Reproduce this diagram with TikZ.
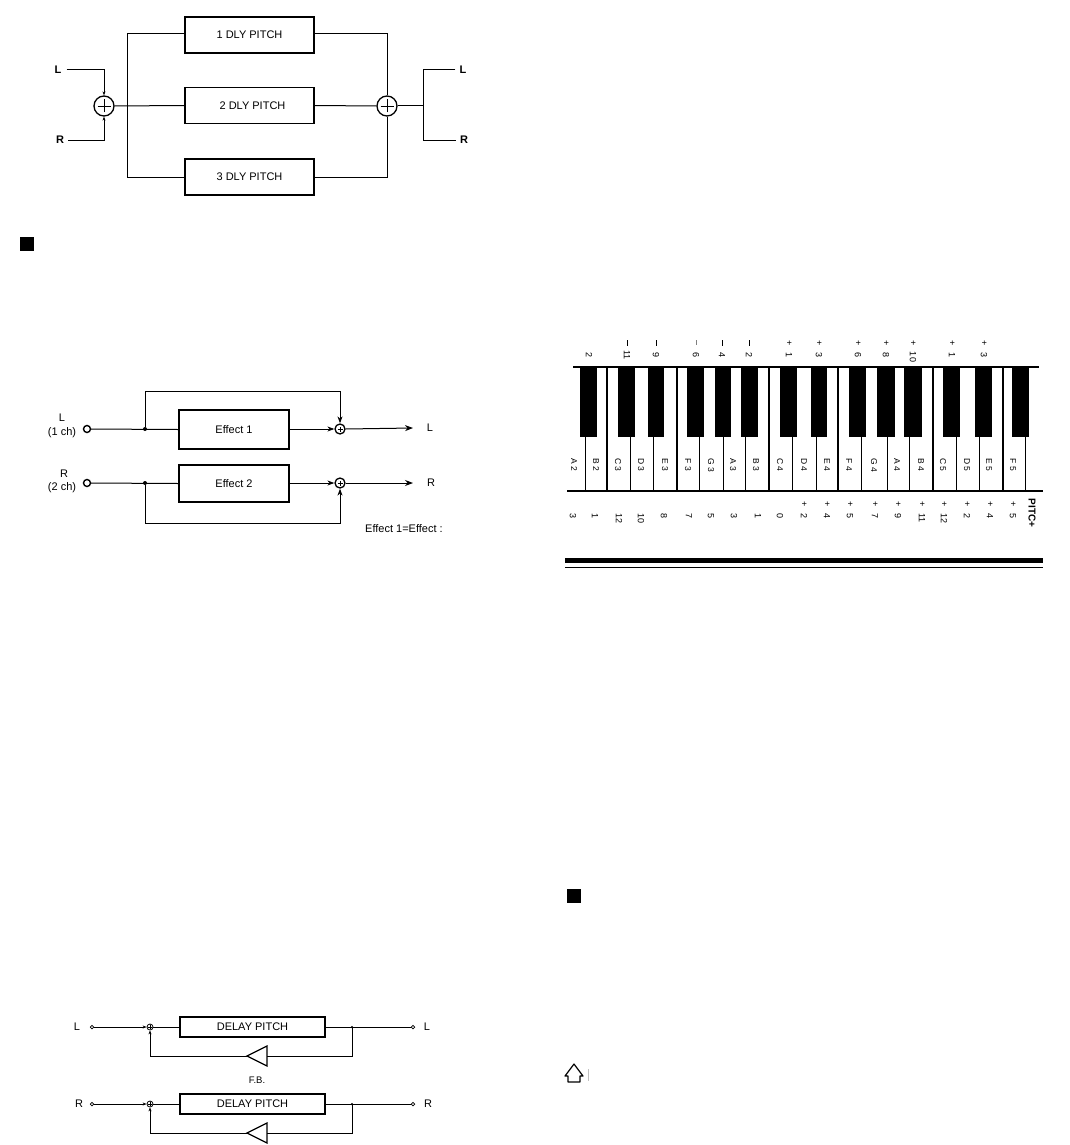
\documentclass[tikz,border=0pt]{standalone}
\usepackage{fontspec}
\setmainfont{Liberation Sans}
\usetikzlibrary{arrows.meta}
\tikzset{
 dbox/.style={draw,line width=1.5pt,minimum width=#1,inner sep=0pt},
 lab/.style={font=\fontsize{11}{12}\selectfont,inner sep=0pt},
 wire/.style={line width=1pt},
 arr/.style={line width=1pt,-{Stealth[length=8pt,width=6pt]}},
 sarr/.style={line width=0.8pt,-{Stealth[length=4pt,width=3pt]}},
 sumc/.style={circle,draw,line width=1.3pt,minimum size=#1,inner sep=0pt},
 port/.style={circle,draw,line width=1.3pt,minimum size=#1,inner sep=0pt},
 dot/.style={circle,fill,minimum size=#1,inner sep=0pt},
 keylab/.style={rotate=-90,font=\fontsize{8.5}{9}\selectfont,inner sep=0pt},
 num/.style={rotate=-90,font=\fontsize{9}{10}\selectfont,inner sep=0pt},
}
\newcommand{\plusin}[2]{\draw[line width=0.9pt] ([xshift=-#2pt]#1.center)--([xshift=#2pt]#1.center) ([yshift=-#2pt]#1.center)--([yshift=#2pt]#1.center);}
\begin{document}
\begin{tikzpicture}[x=1pt,y=-1pt]
\useasboundingbox (0,0) rectangle (1069,1145);
\fill[white] (0,0) rectangle (1069,1145);
% ---- diagram 1
\node[dbox=129pt,minimum height=36pt,lab] (d1) at (249.5,35) {1 DLY PITCH};
\node[dbox=129pt,minimum height=36pt,lab] (d2) at (249.5,105.5) {\hspace{6pt}2 DLY PITCH};
\node[dbox=129pt,minimum height=36pt,lab] (d3) at (249.5,177) {3 DLY PITCH};
\node[sumc=20pt] (s1) at (104,106) {}; \plusin{s1}{6.5}
\node[sumc=20pt] (s2) at (387,106) {}; \plusin{s2}{6.5}
\node[lab,font=\fontsize{11}{12}\selectfont\bfseries] (li) at (58,70) {L};
\node[lab,font=\fontsize{11}{12}\selectfont\bfseries] (ri) at (60,140) {R};
\node[lab,font=\fontsize{11}{12}\selectfont\bfseries] (lo) at (463,70) {L};
\node[lab,font=\fontsize{11}{12}\selectfont\bfseries] (ro) at (464,140) {R};
\coordinate (bt) at (127,34); \coordinate (bb) at (127,177);
\coordinate (ot) at (423,70); \coordinate (ob) at (423,140); \coordinate (om) at (423,106);
\draw[sarr,line width=1pt] (li.east)++(5,0) -| (s1.north);
\draw[sarr,line width=1pt] (ri.east)++(4,0) -| (s1.south);
\draw[wire] (s1.east) -- (d2.west);
\draw[wire] (d1.west|-bt) -- (bt) -- (bb) -- (d3.west|-bb);
\draw[wire] (d1.east|-bt) -| (s2.north);
\draw[wire] (d3.east|-bb) -| (s2.south);
\draw[wire] (d2.east) -- (s2.west);
\draw[wire] (s2.east) -- (om);
\draw[wire] (lo.west)++(-4,0) -- (ot) -- (ob) -- ([xshift=-4pt]ro.west);
% squares
\node[fill=black,minimum size=14pt,inner sep=0pt] (sq1) at (27,244) {};
\node[fill=black,minimum size=14pt,inner sep=0pt] (sq2) at (574,896) {};
% ---- diagram 2
\node[dbox=110pt,minimum height=39pt,lab,line width=2.2pt] (e1) at (234,429.5) {Effect 1};
\node[dbox=110pt,minimum height=37pt,lab,line width=2.2pt] (e2) at (234,483.5) {Effect 2};
\node[port=7pt,line width=1.4pt] (p1) at (87,429) {};
\node[port=7pt,line width=1.4pt] (p2) at (87,483) {};
\node[dot=4pt] (j1) at (145,429) {};
\node[dot=4pt] (j2) at (145,483) {};
\node[sumc=10pt] (a1) at (340,429) {}; \plusin{a1}{2.5}
\node[sumc=10pt] (a2) at (340,483) {}; \plusin{a2}{2.5}
\node[lab] (l1) at (62,418) {L};
\node[lab] (l1b) at (62,433) {(1 ch)};
\node[lab] (r2) at (64,474) {R};
\node[lab] (r2b) at (62,488) {(2 ch)};
\node[lab] (lout) at (430,428) {L};
\node[lab] (rout) at (431,483) {R};
\node[lab,anchor=west] (eq) at (365,529) {Effect 1=Effect :};
\draw[wire] (p1) -- (e1.west);
\draw[wire] (p2) -- (e2.west);
\draw[sarr,-{Stealth[length=7pt,width=5pt]}] (e1.east|-a1) -- (a1.west);
\draw[sarr,-{Stealth[length=7pt,width=5pt]}] (e2.east|-a2) -- (a2.west);
\draw[arr] (a1.east) -- ([xshift=-17pt]lout.center);
\draw[arr] (a2.east) -- ([xshift=-18pt]rout.center);
\draw[arr,-{Stealth[length=7pt,width=5pt]}] (j1) -- (145,391) -- (340,391) -- (a1.north);
\draw[arr,-{Stealth[length=7pt,width=5pt]}] (j2) -- (145,523) -- (340,523) -- (a2.south);
% ---- diagram 3
\node[dbox=145pt,minimum height=20pt,lab,line width=1.2pt] (p3) at (252.5,1027) {DELAY PITCH};
\node[dbox=145pt,minimum height=20pt,lab,line width=1.2pt] (p4) at (252.5,1104) {DELAY PITCH};
\node[lab] (tl) at (77,1027) {L};
\node[lab] (tr) at (79,1104) {R};
\node[lab] (ul) at (427,1027) {L};
\node[lab] (ur) at (428,1104) {R};
\node[lab,font=\fontsize{9.5}{10}\selectfont] (fb) at (257,1080) {F.B.};
\node[port=3.5pt,line width=0.7pt] (c1) at (92,1027) {};
\node[port=3.5pt,line width=0.7pt] (c2) at (92,1104) {};
\node[port=3.5pt,line width=0.7pt] (c3) at (413,1027) {};
\node[port=3.5pt,line width=0.7pt] (c4) at (413,1104) {};
\node[sumc=6pt,line width=0.8pt] (b1) at (150,1027) {}; \plusin{b1}{2}
\node[sumc=6pt,line width=0.8pt] (b2) at (150,1104) {}; \plusin{b2}{2}
\node[dot=2.5pt] (k1) at (352,1027) {};
\node[dot=2.5pt] (k2) at (352,1104) {};
\path[draw,line width=1.2pt,fill=white] (267,1046) -- (267,1066) -- (247,1056) -- cycle;
\path[draw,line width=1.2pt,fill=white] (267,1123) -- (267,1143) -- (247,1133) -- cycle;
\coordinate (t1) at (267,1056); \coordinate (t1b) at (247,1056);
\coordinate (t2) at (267,1133); \coordinate (t2b) at (247,1133);
\draw[sarr] (c1) -- (b1.west);
\draw[sarr] (c2) -- (b2.west);
\draw[wire] (b1.east) -- (p3.west);
\draw[wire] (b2.east) -- (p4.west);
\draw[wire] (p3.east) -- (c3);
\draw[wire] (p4.east) -- (c4);
\draw[wire] (k1) |- (t1);
\draw[wire] (k2) |- (t2);
\draw[sarr] (t1b) -| (b1.south);
\draw[sarr] (t2b) -| (b2.south);
% ---- keyboard
\foreach \x in {585,630,653,699,723,745,792,816,861,887,909,956,979,1025}
  \draw[line width=0.9pt] (\x,437) -- (\x,491);
\foreach \x in {607,677,769,838,933,1003}
  \draw[line width=1.1pt] (\x,367) -- (\x,491);
\foreach \a/\b in {580/597,618/635,648/664,687/704,715/731,741/758,780/797,811/827,849/866,877/895,904/922,943/960,975/992,1012/1029}
  \fill[black] (\a,367) rectangle (\b,437);
\draw[line width=2pt] (573,367) -- (1039,367);
\draw[line width=1.6pt] (567,491) -- (1043,491);
\foreach \x/\t in {574/A 2,596/B 2,618/C 3,641/D 3,665/E 3,688/F 3,711/G 3,733/A 3,756/B 3,780/C 4,804/D 4,827/E 4,849/F 4,874/G 4,897/A 4,921/B 4,943/C 5,967/D 5,989/E 5,1013/F 5}
  \node[keylab] at (\x,465) {\t};
\foreach \x/\t in {589/2,656/9,696/6,722/4,749/2}
  \node[num] at (\x,355) {\t};
\node[num] at (627,355) {11};
\foreach \x in {627,656,722,749}
  \draw[line width=0.8pt] (\x,340) -- (\x,346);
\draw[line width=0.4pt,gray] (696,340) -- (696,345);
\foreach \x/\t in {789/1,819/3,858/6,886/8,952/1,984/3}{
  \node[num] at (\x,355) {\t};
  \node[num] at (\x,343) {+};}
\node[num] at (913,357) {10};
\node[num] at (913,343) {+};
\foreach \x/\t in {573/3,595/1,664/8,689/7,711/5,734/3,758/1,780/0}
  \node[num] at (\x,516) {\t};
\foreach \x/\t in {619/12,641/10}
  \node[num] at (\x,518) {\t};
\foreach \x/\t in {804/2,827/4,850/5,875/7,898/9,967/2,990/4,1013/5}{
  \node[num] at (\x,516) {\t};
  \node[num] at (\x,504) {+};}
\foreach \x/\t in {922/11,944/12}{
  \node[num] at (\x,518) {\t};
  \node[num] at (\x,504) {+};}
\node[num,font=\fontsize{10}{11}\selectfont\bfseries] at (1032,513) {PITC+};
\fill[black] (565,557.5) rectangle (1043,563);
\fill[black] (565,566.5) rectangle (1043,568);
% outline arrow
\draw[line width=1.2pt,line join=round] (574,1064) -- (583,1076) -- (580,1076) -- (580,1082) -- (568,1082) -- (568,1076) -- (565,1076) -- cycle;
\draw[line width=0.5pt,black!25] (588,1069) -- (588,1081);
\end{tikzpicture}
\end{document}
